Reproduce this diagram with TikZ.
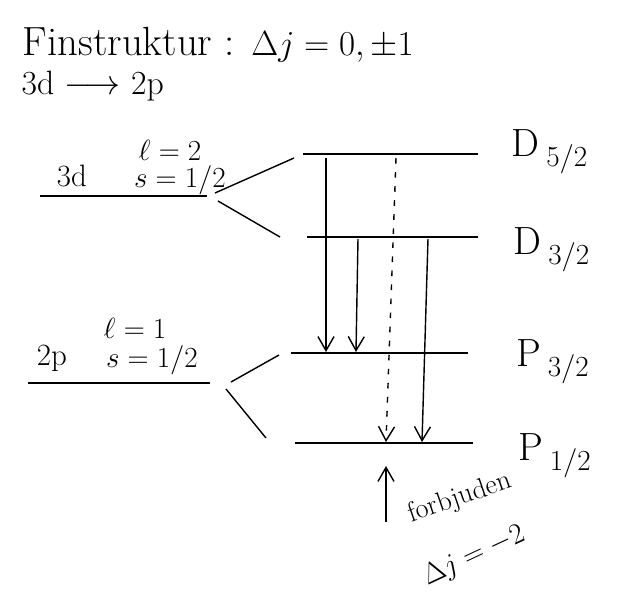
\documentclass[tikz,border=0pt]{standalone}
\usetikzlibrary{arrows.meta}
\begin{document}
\begin{tikzpicture}[
    x=0.025cm, y=-0.025cm,
    level/.style={line width=1.2pt},
    split/.style={line width=1pt},
    arrow/.style={-{Straight Barb[length=3.5mm, width=4mm]}, line width=1pt},
    forbidden/.style={arrow, dash pattern=on 4pt off 6pt},
    lbl/.style={font=\fontsize{22}{26}\selectfont, inner sep=1pt},
    term/.style={font=\fontsize{28}{32}\selectfont, inner sep=0pt},
    note/.style={font=\fontsize{20}{24}\selectfont, inner sep=0pt}
]
\useasboundingbox (0,0) rectangle (621,595);

% Title
\node[anchor=west, font=\fontsize{29}{33}\selectfont] (title) at (18,45) {Finstruktur : $\Delta j = 0, \pm 1$};
\node[anchor=west, lbl, font=\fontsize{24}{28}\selectfont] (trans) at (20,86) {3d $\longrightarrow$ 2p};

% 3d level
\coordinate (d3a) at (40,196);
\coordinate (d3b) at (207,196);
\draw[level] (d3a) -- (d3b);
\node[lbl] (d3name) at (72,176) {3d};
\node[lbl] (d3ell) at (170,150) {$\ell = 2$};
\node[lbl] (d3s) at (180,180) {$s = 1/2$};

% 2p level
\coordinate (p2a) at (28,383);
\coordinate (p2b) at (210,383);
\draw[level] (p2a) -- (p2b);
\node[lbl] (p2name) at (52,358) {2p};
\node[lbl] (p2ell) at (135,328) {$\ell = 1$};
\node[lbl] (p2s) at (152,360) {$s = 1/2$};

% Fine structure levels
\coordinate (D52a) at (303,154);
\coordinate (D52b) at (478,154);
\coordinate (D32a) at (307,237);
\coordinate (D32b) at (478,237);
\coordinate (P32a) at (291,353);
\coordinate (P32b) at (468,353);
\coordinate (P12a) at (295,443);
\coordinate (P12b) at (473,443);
\draw[level] (D52a) -- (D52b);
\draw[level] (D32a) -- (D32b);
\draw[level] (P32a) -- (P32b);
\draw[level] (P12a) -- (P12b);
\node[term] (D52) at (550,152) {D\,$_{5/2}$};
\node[term] (D32) at (552,250) {D\,$_{3/2}$};
\node[term] (P32) at (553,362) {P\,$_{3/2}$};
\node[term] (P12) at (555,456) {P\,$_{1/2}$};

% Splitting
\coordinate (s1) at (215,193);
\coordinate (s2) at (294,158);
\coordinate (s3) at (218,201);
\coordinate (s4) at (280,237);
\coordinate (s5) at (231,382);
\coordinate (s6) at (279,355);
\coordinate (s7) at (226,389);
\coordinate (s8) at (266,438);
\draw[split] (s1) -- (s2);
\draw[split] (s3) -- (s4);
\draw[split] (s5) -- (s6);
\draw[split] (s7) -- (s8);

% Transitions
\coordinate (t1a) at (326,158);
\coordinate (t1b) at (326,352);
\coordinate (t2a) at (358,239);
\coordinate (t2b) at (356,352);
\coordinate (t3a) at (396,158);
\coordinate (t3b) at (386,442);
\coordinate (t4a) at (428,239);
\coordinate (t4b) at (422,442);
\draw[arrow] (t1a) -- (t1b);
\draw[arrow] (t2a) -- (t2b);
\draw[forbidden] (t3a) -- (t3b);
\draw[arrow] (t4a) -- (t4b);

% Forbidden note
\coordinate (fa) at (386,522);
\coordinate (fb) at (386,466);
\draw[arrow] (fa) -- (fb);
\node[note, rotate=19] (forb) at (460,498) {forbjuden};
\node[note, rotate=25] (dj) at (474,556) {$\Delta j = -2$};

\end{tikzpicture}
\end{document}
